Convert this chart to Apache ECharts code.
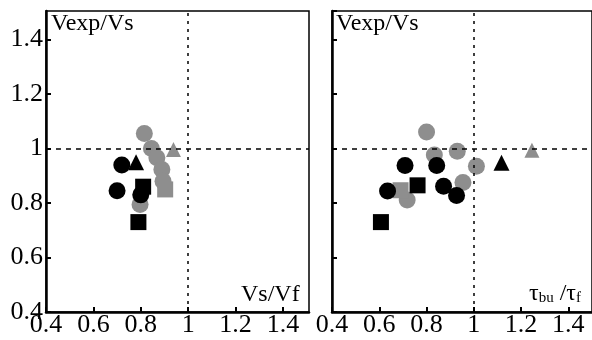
<!DOCTYPE html>
<html>
<head>
<meta charset="utf-8">
<script src="https://cdn.jsdelivr.net/npm/echarts@6/dist/echarts.min.js"></script>
<style>
html, body { margin: 0; padding: 0; background: #fff; }
#main { width: 592px; height: 340px; }
</style>
</head>
<body>
<div id="main"></div>
<script>
// tick values shared by both panels
var xTicks = [0.4, 0.6, 0.8, 1, 1.2, 1.4];
var yTicks = [0.4, 0.6, 0.8, 1, 1.2, 1.4];

// left panel: Vexp/Vs against Vs/Vf
var leftBlackCircle = [[0.72, 0.94], [0.70, 0.845], [0.80, 0.83]];
var leftBlackSquare = [[0.81, 0.86], [0.79, 0.73]];
var leftBlackTriangle = [[0.78, 0.95]];
var leftGrayCircle = [[0.815, 1.055], [0.845, 1.0], [0.868, 0.966], [0.889, 0.923], [0.894, 0.88], [0.797, 0.795]];
var leftGraySquare = [[0.903, 0.85]];
var leftGrayTriangle = [[0.938, 0.997]];

// right panel: Vexp/Vs against tau_bu/tau_f
var rightBlackCircle = [[0.709, 0.938], [0.843, 0.938], [0.635, 0.844], [0.872, 0.862], [0.927, 0.828]];
var rightBlackSquare = [[0.762, 0.865], [0.607, 0.73]];
var rightBlackTriangle = [[1.117, 0.948]];
var rightGrayCircle = [[0.80, 1.061], [0.93, 0.99], [0.833, 0.976], [1.011, 0.935], [0.718, 0.811], [0.954, 0.875]];
var rightGraySquare = [[0.69, 0.847]];
var rightGrayTriangle = [[1.246, 0.994]];

var grey = '#8e8e8e';
var font = 'Liberation Serif';

function tickText(v, list) {
	var r = Math.round(v * 10) / 10;
	return list.indexOf(r) >= 0 ? String(r) : '';
}

function xAxisOf(idx, max) {
	return {
		type: 'value', gridIndex: idx, min: 0.4, max: max, interval: 0.2,
		axisLine: { lineStyle: { color: '#000', width: 2.5 } },
		axisTick: { inside: true, length: 5, lineStyle: { color: '#000', width: 2 } },
		axisLabel: {
			color: '#000', fontFamily: font, fontSize: 26, margin: 0,
			showMaxLabel: false,
			formatter: function(v) { return tickText(v, xTicks); }
		},
		splitLine: { show: false }
	};
}

function yAxisOf(idx, labels) {
	return {
		type: 'value', gridIndex: idx, min: 0.4, max: 1.505, interval: 0.2,
		axisLine: { lineStyle: { color: '#000', width: 2.5 } },
		axisTick: { inside: true, length: 5, lineStyle: { color: '#000', width: 2 } },
		axisLabel: {
			show: labels, color: '#000', fontFamily: font, fontSize: 26, margin: 3,
			showMaxLabel: false,
			formatter: function(v) { return tickText(v, yTicks); }
		},
		splitLine: { show: false }
	};
}

function scatter(idx, data, symbol, size, color) {
	return {
		type: 'scatter', xAxisIndex: idx, yAxisIndex: idx,
		symbol: symbol, symbolSize: size, data: data,
		itemStyle: { color: color, opacity: 1 },
		silent: true
	};
}

function guides(idx) {
	return {
		type: 'scatter', xAxisIndex: idx, yAxisIndex: idx, data: [], silent: true,
		markLine: {
			symbol: 'none', silent: true, animation: false,
			label: { show: false },
			data: [
				{ xAxis: 1, lineStyle: { color: '#000', width: 1.5, type: [3, 5] } },
				{ yAxis: 1, lineStyle: { color: '#000', width: 1.5, type: [5, 5] } }
			]
		}
	};
}

var myChart = echarts.init(document.getElementById('main'));
myChart.setOption({
	animation: false,
	backgroundColor: '#fff',
	grid: [
		{ left: 46, top: 11, width: 263, height: 301, show: true, borderColor: '#000', borderWidth: 1.5 },
		{ left: 332, top: 11, width: 261, height: 301, show: true, borderColor: '#000', borderWidth: 1.5 }
	],
	xAxis: [xAxisOf(0, 1.51), xAxisOf(1, 1.5)],
	yAxis: [yAxisOf(0, true), yAxisOf(1, false)],
	graphic: [
		{ type: 'text', left: 51, top: 12, style: { text: 'Vexp/Vs', font: '24px "Liberation Serif"', fill: '#000' } },
		{ type: 'text', left: 336, top: 12, style: { text: 'Vexp/Vs', font: '24px "Liberation Serif"', fill: '#000' } },
		{ type: 'text', left: 241, top: 283, style: { text: 'Vs/Vf', font: '24px "Liberation Serif"', fill: '#000' } },
		{ type: 'text', left: 529, top: 282, style: {
			text: '{t|τ}{s|bu}{t| /τ}{s|f}',
			rich: {
				t: { fontFamily: font, fontSize: 24, fill: '#000' },
				s: { fontFamily: font, fontSize: 15, fill: '#000', padding: [9, 0, 0, 0] }
			}
		} }
	],
	series: [
		guides(0),
		scatter(0, leftGrayCircle, 'circle', 17, grey),
		scatter(0, leftGraySquare, 'rect', 16, grey),
		scatter(0, leftGrayTriangle, 'triangle', 15, grey),
		scatter(0, leftBlackCircle, 'circle', 17, '#000'),
		scatter(0, leftBlackSquare, 'rect', 16, '#000'),
		scatter(0, leftBlackTriangle, 'triangle', 16, '#000'),
		guides(1),
		scatter(1, rightGrayCircle, 'circle', 17, grey),
		scatter(1, rightGraySquare, 'rect', 16, grey),
		scatter(1, rightGrayTriangle, 'triangle', 15, grey),
		scatter(1, rightBlackCircle, 'circle', 17, '#000'),
		scatter(1, rightBlackSquare, 'rect', 16, '#000'),
		scatter(1, rightBlackTriangle, 'triangle', 16, '#000')
	]
});
</script>
</body>
</html>
